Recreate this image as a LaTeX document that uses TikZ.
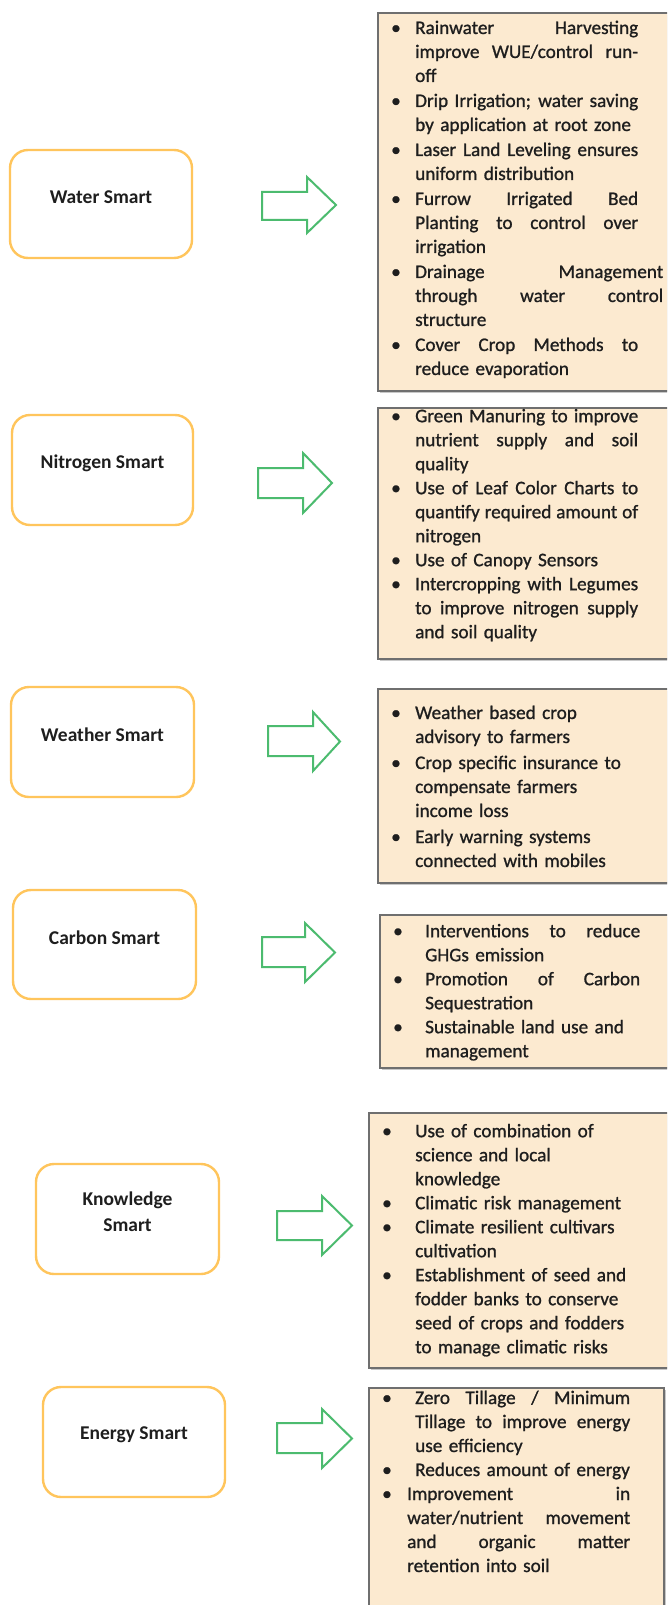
\documentclass[tikz,border=0pt]{standalone}
\usepackage{fontspec}
\usetikzlibrary{shadows}
\setmainfont{Carlito}
\newfontfamily\bodyfont[FakeBold=1]{Carlito}
\definecolor{smartc}{HTML}{FFC55C}
\definecolor{boxfill}{HTML}{FCEAD0}
\definecolor{boxline}{HTML}{6F6F6F}
\definecolor{arrowc}{HTML}{4CBB6F}
\definecolor{ink}{HTML}{1E1E1E}
\definecolor{shadowc}{HTML}{C8C8C8}
\newlength\bi
\newcommand\B[1][\bi]{\makebox[#1][l]{\textbullet}}
\newcommand\I[1][\bi]{\hspace*{#1}}
\newcommand\J[2][223pt]{\hbox to #1{\spaceskip=0.226em plus 1fil\relax #2}}
\newcommand\blockarrow[7]{%
  \draw[blk] (#1,#5) -- (#2,#5) -- (#2,#4) -- (#3,{(#4+#7)/2}) -- (#2,#7) -- (#2,#6) -- (#1,#6) -- cycle;}
\begin{document}
\begin{tikzpicture}[x=1pt,y=-1pt,
  smart/.style={draw=smartc, line width=2.4pt, rounded corners=18pt, fill=white, inner sep=0pt},
  infobox/.style={draw=boxline, fill=boxfill, line width=2pt, anchor=north west, inner sep=0pt,
    drop shadow={shadow xshift=1.5pt, shadow yshift=-2pt, fill=shadowc, opacity=1}},
  blk/.style={draw=arrowc, line width=2pt, fill=white, line join=miter},
  txt/.style={inner sep=0pt, anchor=north west, align=left, text width=300pt, text=ink,
    font=\bodyfont\fontsize{19.2}{24}\selectfont},
  lbl/.style={font=\fontsize{19.5}{26}\selectfont\bfseries, align=center, inner sep=0pt, text=ink}]
\useasboundingbox (0,0) rectangle (667,1605);
\clip (0,0) rectangle (667,1605);
\fill[white] (0,0) rectangle (667,1605);

% ---------- left boxes ----------
\node[smart, minimum width=182pt, minimum height=108pt] (water) at (101,204) {};
\node[smart, minimum width=181pt, minimum height=110pt] (nitro) at (102.5,470) {};
\node[smart, minimum width=183pt, minimum height=110pt] (weather) at (102.5,742) {};
\node[smart, minimum width=183pt, minimum height=109pt] (carbon) at (104.5,944.5) {};
\node[smart, minimum width=183pt, minimum height=110pt] (know) at (127.5,1219) {};
\node[smart, minimum width=182pt, minimum height=110pt] (energy) at (134,1442) {};

\node[lbl] (waterl) at ([yshift=7pt]water.center) {Water Smart};
\node[lbl] (nitrol) at ([yshift=7pt]nitro.center) {Nitrogen Smart};
\node[lbl] (weatherl) at ([yshift=7pt]weather.center) {Weather Smart};
\node[lbl] (carbonl) at ([yshift=7pt]carbon.center) {Carbon Smart};
\node[lbl] (knowl) at ([yshift=7pt]know.center) {Knowledge\\Smart};
\node[lbl] (energyl) at ([yshift=7pt]energy.center) {Energy Smart};

% ---------- block arrows ----------
\blockarrow{262}{307}{336}{177}{192}{220}{233}
\blockarrow{258}{303}{332}{453}{468}{498}{513}
\blockarrow{268}{313}{340}{712}{726}{756}{771}
\blockarrow{262}{305}{335}{923}{937}{967}{982}
\blockarrow{277}{322}{352}{1196}{1211}{1240}{1255}
\blockarrow{277}{322}{352}{1409}{1423}{1453}{1468}

% ---------- info boxes ----------
\node[infobox, minimum width=300pt, minimum height=378pt] (waterb) at (377,12) {};
\node[infobox, minimum width=300pt, minimum height=251pt] (nitrob) at (377,407) {};
\node[infobox, minimum width=300pt, minimum height=194pt] (weatherb) at (377,688) {};
\node[infobox, minimum width=300pt, minimum height=153pt] (carbonb) at (379,914) {};
\node[infobox, minimum width=310pt, minimum height=255pt] (knowb) at (368,1112) {};
\node[infobox, minimum width=295pt, minimum height=240pt] (energyb) at (368,1387) {};

% ---------- texts ----------
\node[txt] (watert) at (391,17) {\setlength\bi{24pt}\strut
\B\J{Rainwater Harvesting}\\
\I\J{improve WUE/control run-}\\
\I off\\[1pt]
\B\J{Drip Irrigation; water saving}\\
\I by application at root zone\\[1pt]
\B\J{Laser Land Leveling ensures}\\
\I uniform distribution\\[1pt]
\B\J{Furrow Irrigated Bed}\\
\I\J{Planting to control over}\\
\I irrigation\\[1pt]
\B\J[248pt]{Drainage Management}\\
\I\J[248pt]{through water control}\\
\I structure\\[1pt]
\B\J{Cover Crop Methods to}\\
\I reduce evaporation};

\node[txt] (nitrot) at (391,405.2) {\setlength\bi{24pt}\strut
\B\J{Green Manuring to improve}\\
\I\J{nutrient supply and soil}\\
\I quality\\
\B\J{Use of Leaf Color Charts to}\\
\I\J{quantify required amount of}\\
\I nitrogen\\
\B Use of Canopy Sensors\\
\B\J{Intercropping with Legumes}\\
\I\J{to improve nitrogen supply}\\
\I and soil quality};

\node[txt] (weathert) at (391,702) {\setlength\bi{24pt}\strut
\B Weather based crop\\
\I advisory to farmers\\[2pt]
\B Crop specific insurance to\\
\I compensate farmers\\
\I income loss\\[2pt]
\B Early warning systems\\
\I connected with mobiles};

\node[txt] (carbont) at (393,920.2) {\setlength\bi{32pt}\strut
\B\J[215pt]{Interventions to reduce}\\
\I GHGs emission\\
\B\J[215pt]{Promotion of Carbon}\\
\I Sequestration\\
\B Sustainable land use and\\
\I management};

\node[txt] (knowt) at (382,1120.2) {\setlength\bi{33pt}\strut
\B Use of combination of\\
\I science and local\\
\I knowledge\\
\B Climatic risk management\\
\B Climate resilient cultivars\\
\I cultivation\\
\B Establishment of seed and\\
\I fodder banks to conserve\\
\I seed of crops and fodders\\
\I to manage climatic risks};

\node[txt] (energyt) at (382,1387) {\setlength\bi{33pt}\strut
\B\J[215pt]{Zero Tillage / Minimum}\\
\I\J[215pt]{Tillage to improve energy}\\
\I use efficiency\\
\B Reduces amount of energy\\
\B[25pt]\J{Improvement in}\\
\I[25pt]\J{water/nutrient movement}\\
\I[25pt]\J{and organic matter}\\
\I[25pt]retention into soil};
\end{tikzpicture}
\end{document}
